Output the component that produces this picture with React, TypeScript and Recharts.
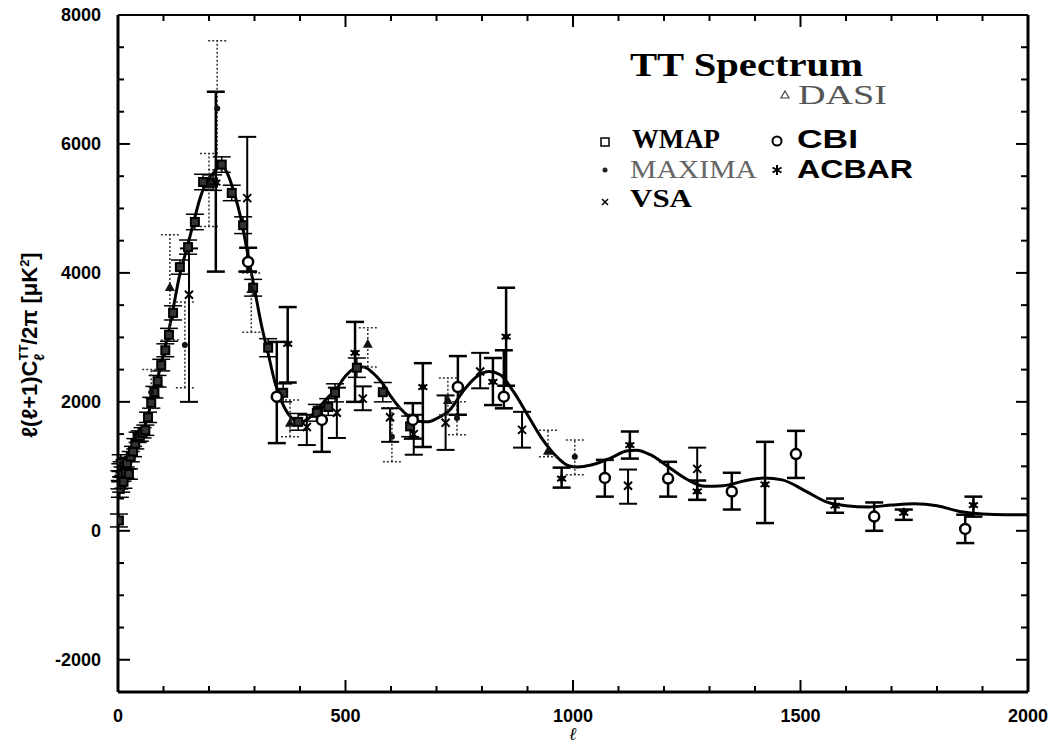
import { ComposedChart, Line, Scatter, ErrorBar, XAxis, YAxis } from "recharts"

// theory curve [ell, value]
const theory = [
  [2, 950], [10, 820], [20, 900], [30, 1100], [40, 1300], [50, 1480], [60, 1650], [70, 1900],
  [80, 2150], [90, 2450], [100, 2750], [110, 3050], [120, 3400], [135, 3950], [150, 4350],
  [165, 4750], [180, 5150], [195, 5420], [210, 5550], [225, 5680], [240, 5550], [255, 5250],
  [270, 4850], [285, 4300], [300, 3750], [315, 3200], [330, 2750], [345, 2300], [360, 2000],
  [380, 1760], [400, 1680], [420, 1750], [440, 1900], [460, 2060], [480, 2200], [500, 2400],
  [520, 2520], [540, 2540], [560, 2450], [580, 2300], [600, 2080], [620, 1900], [640, 1770],
  [660, 1700], [680, 1690], [700, 1740], [730, 1880], [760, 2180], [790, 2400], [815, 2470],
  [840, 2420], [870, 2150], [900, 1800], [930, 1450], [960, 1180], [990, 1010], [1010, 990],
  [1040, 1020], [1080, 1120], [1120, 1240], [1140, 1250], [1170, 1180], [1210, 990], [1250, 800],
  [1290, 690], [1330, 700], [1380, 780], [1420, 820], [1460, 790], [1510, 620], [1560, 440],
  [1600, 390], [1650, 370], [1700, 400], [1750, 420], [1800, 390], [1850, 300], [1900, 260],
  [1950, 250], [2000, 250],
]

// data points [ell, value, lower, upper]
const wmap = [
  [2, 160, 60, 260], [3, 790, 650, 930], [4, 650, 520, 780], [5, 900, 760, 1040],
  [6, 1050, 920, 1180], [7, 720, 600, 840], [8, 950, 830, 1070], [10, 880, 770, 990],
  [12, 760, 660, 860], [14, 1000, 900, 1100], [17, 900, 810, 990], [20, 1050, 960, 1140],
  [24, 880, 800, 960], [28, 1150, 1070, 1230], [33, 1230, 1150, 1310], [38, 1350, 1270, 1430],
  [43, 1450, 1370, 1530], [48, 1470, 1390, 1550], [54, 1520, 1440, 1600], [60, 1560, 1480, 1640],
  [66, 1760, 1680, 1840], [73, 1985, 1900, 2070], [80, 2150, 2060, 2240], [87, 2320, 2230, 2410],
  [95, 2570, 2480, 2660], [104, 2800, 2700, 2900], [112, 3040, 2940, 3140], [121, 3380, 3270, 3490],
  [136, 4090, 3980, 4200], [154, 4400, 4290, 4510], [169, 4790, 4670, 4910], [187, 5410, 5290, 5530],
  [209, 5400, 5280, 5520], [228, 5680, 5560, 5800], [250, 5240, 5120, 5360], [275, 4740, 4610, 4870],
  [297, 3770, 3640, 3900], [330, 2840, 2700, 2980], [363, 2140, 2000, 2280], [396, 1690, 1560, 1820],
  [437, 1830, 1700, 1960], [462, 1920, 1790, 2050], [477, 2140, 2000, 2280], [525, 2530, 2380, 2680],
  [582, 2150, 2000, 2300], [642, 1620, 1460, 1780],
]
const dasi = [
  [114, 3780, 2960, 4590], [200, 5370, 4720, 5850], [293, 3750, 3080, 4000], [378, 1675, 1460, 2030],
  [549, 2900, 2540, 3150], [725, 2030, 1800, 2370], [945, 1240, 1150, 1560],
]
const maxima = [
  [73, 2150, 1900, 2500], [147, 2880, 2220, 3550], [218, 6550, 5600, 7600], [602, 1460, 1070, 1910],
  [745, 1750, 1490, 2000], [1004, 1150, 870, 1410],
]
const vsa = [
  [156, 3660, 2000, 4380], [284, 5160, 4020, 6110], [415, 1610, 1330, 1800], [481, 1830, 1440, 2220],
  [538, 2050, 1870, 2240], [598, 1760, 1380, 1900], [650, 1500, 1180, 1800], [720, 1675, 1255, 2100],
  [796, 2470, 2210, 2760], [888, 1565, 1290, 1845], [1121, 700, 420, 950], [1273, 960, 480, 1290],
]
const cbi = [
  [286, 4170, 4020, 4390], [349, 2080, 1360, 2930], [448, 1720, 1225, 1920], [648, 1720, 1430, 1980],
  [747, 2230, 1800, 2710], [848, 2080, 1900, 2800], [1070, 820, 530, 1100], [1209, 810, 530, 1070],
  [1349, 610, 330, 900], [1490, 1190, 820, 1550], [1662, 220, 0, 440], [1862, 30, -190, 250],
]
const acbar = [
  [215, 5400, 4020, 6810], [373, 2900, 2300, 3470], [521, 2760, 2000, 3240], [670, 2230, 1300, 2600],
  [824, 2310, 1950, 2680], [853, 3010, 2250, 3770], [975, 810, 670, 980], [1125, 1330, 1120, 1540],
  [1273, 610, 480, 780], [1422, 720, 120, 1380], [1576, 390, 280, 500], [1727, 280, 170, 330],
  [1880, 400, 220, 530],
]

const xTicks = Array.from({ length: 21 }, (_, i) => i * 100)
const yTicks = Array.from({ length: 21 }, (_, i) => -2000 + i * 500)

const line = theory.map(([l, v]) => ({ l, v }))
const pts = (rows: number[][]) => rows.map(([l, v, lo, hi]) => ({ l, v, err: [v - lo, hi - v] }))

const sans = "'Liberation Sans', Arial, sans-serif"
const serif = "'Liberation Serif', 'Times New Roman', serif"

const BottomTick = ({ x, y, payload }: any) => {
  const major = payload.value % 500 === 0
  return (
    <g>
      <line x1={x} x2={x} y1={y} y2={y - (major ? 12 : 6)} stroke="#000" strokeWidth={2} />
      {major && (
        <text x={x} y={y + 30} textAnchor="middle" fontFamily={sans} fontWeight="bold" fontSize={18}>
          {payload.value}
        </text>
      )}
    </g>
  )
}
const TopTick = ({ x, y, payload }: any) => {
  const major = payload.value % 500 === 0
  return <line x1={x} x2={x} y1={y} y2={y + (major ? 12 : 6)} stroke="#000" strokeWidth={2} />
}
const LeftTick = ({ x, y, payload }: any) => {
  const major = payload.value % 2000 === 0
  return (
    <g>
      <line x1={x} x2={x + (major ? 12 : 6)} y1={y} y2={y} stroke="#000" strokeWidth={2} />
      {major && (
        <text x={x - 17} y={y + 6} textAnchor="end" fontFamily={sans} fontWeight="bold" fontSize={18}>
          {payload.value}
        </text>
      )}
    </g>
  )
}
const RightTick = ({ x, y, payload }: any) => {
  const major = payload.value % 2000 === 0
  return <line x1={x} x2={x - (major ? 12 : 7)} y1={y} y2={y} stroke="#000" strokeWidth={2} />
}

const Square = ({ cx, cy }: any) => (
  <rect x={cx - 4} y={cy - 4} width={8} height={8} fill="#333" stroke="#000" strokeWidth={2} />
)
const Triangle = ({ cx, cy }: any) => (
  <path d={`M${cx},${cy - 5}L${cx + 5},${cy + 4}L${cx - 5},${cy + 4}Z`} fill="#111" />
)
const Dot = ({ cx, cy }: any) => <circle cx={cx} cy={cy} r={3} fill="#111" />
const Cross = ({ cx, cy }: any) => (
  <path d={`M${cx - 4},${cy - 4}L${cx + 4},${cy + 4}M${cx - 4},${cy + 4}L${cx + 4},${cy - 4}`} stroke="#000" strokeWidth={2} />
)
const Ring = ({ cx, cy }: any) => <circle cx={cx} cy={cy} r={5} fill="#fff" stroke="#000" strokeWidth={2.5} />
const Star = ({ cx, cy }: any) => (
  <g>
    <circle cx={cx} cy={cy} r={3} fill="#000" />
    <path
      d={`M${cx},${cy - 5}L${cx},${cy + 5}M${cx - 4.5},${cy - 2.5}L${cx + 4.5},${cy + 2.5}M${cx - 4.5},${cy + 2.5}L${cx + 4.5},${cy - 2.5}`}
      stroke="#000"
      strokeWidth={2}
    />
  </g>
)

const series = [
  { name: "WMAP", rows: wmap, shape: Square, dash: undefined, bar: 1.5 },
  { name: "DASI", rows: dasi, shape: Triangle, dash: "2 2", bar: 1.5 },
  { name: "MAXIMA", rows: maxima, shape: Dot, dash: "2 2", bar: 1.5 },
  { name: "VSA", rows: vsa, shape: Cross, dash: undefined, bar: 2 },
  { name: "CBI", rows: cbi, shape: Ring, dash: undefined, bar: 2.5 },
  { name: "ACBAR", rows: acbar, shape: Star, dash: undefined, bar: 2.5 },
]

export default function App() {
  return (
    <div style={{ position: "absolute", left: 0, top: 0, width: 1053, height: 746, background: "#fff" }}>
      <ComposedChart width={1053} height={746} margin={{ top: 14, right: 24, bottom: 0, left: 58 }}>
        <XAxis
          xAxisId="b"
          dataKey="l"
          type="number"
          domain={[0, 2000]}
          ticks={xTicks}
          interval={0}
          allowDataOverflow
          height={54}
          tickSize={0}
          tickMargin={0}
          tickLine={false}
          tick={BottomTick}
          axisLine={{ stroke: "#000", strokeWidth: 3 }}
        />
        <XAxis
          xAxisId="t"
          orientation="top"
          dataKey="l"
          type="number"
          domain={[0, 2000]}
          ticks={xTicks}
          interval={0}
          allowDataOverflow
          height={1}
          tickSize={0}
          tickMargin={0}
          tickLine={false}
          tick={TopTick}
          axisLine={{ stroke: "#000", strokeWidth: 2 }}
        />
        <YAxis
          yAxisId="l"
          dataKey="v"
          type="number"
          domain={[-2500, 8000]}
          ticks={yTicks}
          interval={0}
          allowDataOverflow
          width={60}
          tickSize={0}
          tickMargin={0}
          tickLine={false}
          tick={LeftTick}
          axisLine={{ stroke: "#000", strokeWidth: 3 }}
        />
        <YAxis
          yAxisId="r"
          orientation="right"
          dataKey="v"
          type="number"
          domain={[-2500, 8000]}
          ticks={yTicks}
          interval={0}
          allowDataOverflow
          width={1}
          tickSize={0}
          tickMargin={0}
          tickLine={false}
          tick={RightTick}
          axisLine={{ stroke: "#000", strokeWidth: 3 }}
        />
        <Line
          xAxisId="b"
          yAxisId="l"
          data={line}
          dataKey="v"
          type="monotone"
          dot={false}
          stroke="#000"
          strokeWidth={3}
          isAnimationActive={false}
        />
        {series.map((s) => (
          <Scatter
            key={s.name}
            name={s.name}
            xAxisId="b"
            yAxisId="l"
            data={pts(s.rows)}
            dataKey="v"
            shape={s.shape}
            isAnimationActive={false}
          >
            <ErrorBar
              dataKey="err"
              direction="y"
              width={9}
              stroke={s.dash ? "#333" : "#000"}
              strokeWidth={s.bar}
              strokeDasharray={s.dash}
            />
          </Scatter>
        ))}
      </ComposedChart>
      <svg width={1053} height={746} style={{ position: "absolute", left: 0, top: 0, pointerEvents: "none" }}>
        <text x={630} y={76} fontFamily={serif} fontWeight="bold" fontSize={33} textLength={233} lengthAdjust="spacingAndGlyphs">
          TT Spectrum
        </text>
        <path d="M785,91L789,98L781,98Z" fill="none" stroke="#444" strokeWidth={1.2} />
        <text x={798} y={104} fontFamily={serif} fontSize={27} fill="#555" textLength={89} lengthAdjust="spacingAndGlyphs">
          DASI
        </text>
        <rect x={601} y={138} width={8} height={8} fill="none" stroke="#000" strokeWidth={1.5} />
        <text x={632} y={148} fontFamily={serif} fontWeight="bold" fontSize={27} textLength={88} lengthAdjust="spacingAndGlyphs">
          WMAP
        </text>
        <circle cx={777} cy={141} r={4.5} fill="none" stroke="#000" strokeWidth={2} />
        <text x={797} y={148} fontFamily={sans} fontWeight="bold" fontSize={26} textLength={61} lengthAdjust="spacingAndGlyphs">
          CBI
        </text>
        <circle cx={605} cy={170} r={2.5} fill="#222" />
        <text x={630} y={178} fontFamily={serif} fontSize={26} fill="#666" textLength={127} lengthAdjust="spacingAndGlyphs">
          MAXIMA
        </text>
        <path
          d="M777,165L777,175M772.5,167.5L781.5,172.5M772.5,172.5L781.5,167.5"
          stroke="#000"
          strokeWidth={2}
        />
        <text x={797} y={178} fontFamily={sans} fontWeight="bold" fontSize={26} textLength={116} lengthAdjust="spacingAndGlyphs">
          ACBAR
        </text>
        <path d="M602,199L608,205M602,205L608,199" stroke="#000" strokeWidth={1.5} />
        <text x={630} y={207} fontFamily={serif} fontWeight="bold" fontSize={26} textLength={62} lengthAdjust="spacingAndGlyphs">
          VSA
        </text>
        <text
          transform="translate(37,345) rotate(-90)"
          textAnchor="middle"
          fontFamily={sans}
          fontWeight="bold"
          fontSize={22}
        >
          ℓ(ℓ+1)C
          <tspan fontSize={13} dy={-9}>TT</tspan>
          <tspan fontSize={14} dx={-16} dy={16}>ℓ</tspan>
          <tspan dx={9} dy={-7}>/2π  [μK</tspan>
          <tspan fontSize={13} dy={-8}>2</tspan>
          <tspan dy={8}>]</tspan>
        </text>
        <text x={573} y={740} textAnchor="middle" fontFamily={serif} fontStyle="italic" fontWeight="bold" fontSize={18}>
          ℓ
        </text>
      </svg>
    </div>
  )
}
